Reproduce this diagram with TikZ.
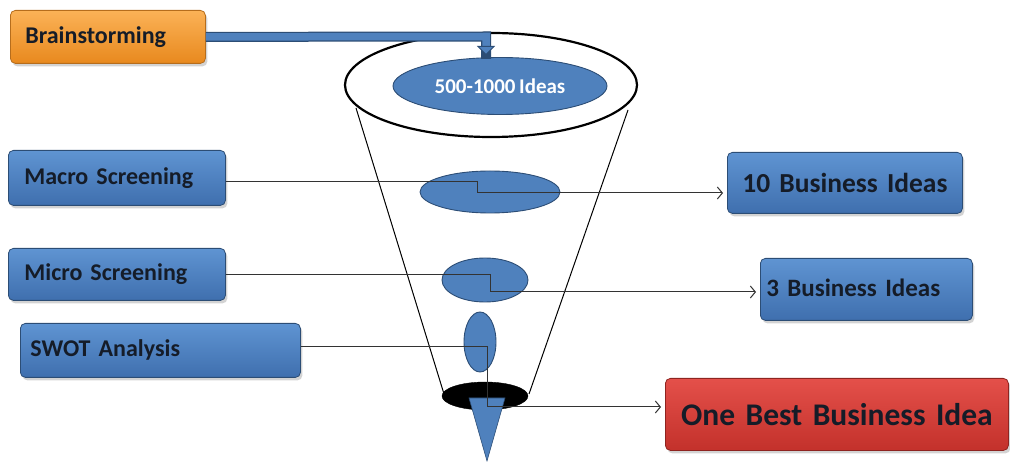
\documentclass[tikz,border=0pt]{standalone}
\usepackage{fontspec}
\setmainfont{Carlito}[WordSpace=0.75]
\usetikzlibrary{arrows.meta,shadows,shapes.geometric}
\definecolor{bfill}{HTML}{4F81BD}
\definecolor{btop}{HTML}{5F94D2}
\definecolor{bbot}{HTML}{3F6FAE}
\definecolor{bline}{HTML}{2C4D75}
\definecolor{otop}{HTML}{FBB257}
\definecolor{obot}{HTML}{E8891E}
\definecolor{oline}{HTML}{B66D1C}
\definecolor{rtop}{HTML}{E4504A}
\definecolor{rbot}{HTML}{C3312B}
\definecolor{rline}{HTML}{8E2420}
\definecolor{txt}{HTML}{151C28}
\tikzset{
  boxbase/.style={rounded corners=5pt, draw, line width=0.8pt, anchor=north west,
    text=txt, font=\bfseries\fontsize{24}{27}\selectfont,
    drop shadow={opacity=0.35, shadow xshift=2pt, shadow yshift=-3pt}},
  bluebox/.style={boxbase, draw=bline, top color=btop, bottom color=bbot},
  orangebox/.style={boxbase, draw=oline, top color=otop, bottom color=obot},
  redbox/.style={boxbase, draw=rline, top color=rtop, bottom color=rbot},
  blueell/.style={ellipse, draw=bline, fill=bfill, line width=0.9pt, inner sep=0pt},
  conn/.style={draw=black!80, line width=1pt},
  connarr/.style={conn, -{Straight Barb[length=5pt,width=12pt]}, shorten >=4pt},
  funnel/.style={draw=black, line width=1pt},
}
\begin{document}
\begin{tikzpicture}[x=1pt,y=-1pt]
\useasboundingbox (0,0) rectangle (1010,462);

% funnel sides
\coordinate (fl1) at (356,108);
\coordinate (fl2) at (444,394);
\coordinate (fr1) at (628,110);
\coordinate (fr2) at (529,394);
\draw[funnel] (fl1) -- (fl2);
\draw[funnel] (fr1) -- (fr2);

% big top ellipse
\node[ellipse, draw=black, fill=white, line width=2.2pt, minimum width=292pt, minimum height=104pt, inner sep=0pt] (top) at (491,85) {};
\node[blueell, minimum width=214pt, minimum height=57pt, text=white, font=\bfseries\fontsize{21}{24}\selectfont] (ideas) at (500,86) {500-1000 Ideas};

% stage ellipses
\node[blueell, minimum width=140pt, minimum height=42pt] (e1) at (490,192) {};
\node[blueell, minimum width=86pt, minimum height=44pt] (e2) at (485,280) {};
\node[blueell, minimum width=32pt, minimum height=60pt] (e3) at (480,342) {};
\node[ellipse, draw=black, fill=black, minimum width=86pt, minimum height=28pt, inner sep=0pt] (e4) at (485,396) {};
\path[fill=bfill, draw=bline, line width=0.6pt] (469,398) -- (505,398) -- (487,461) -- cycle;

% boxes
\node[orangebox, minimum height=53pt, text width=165pt, inner xsep=15pt, align=left] (brain) at (10,10) {Brainstorming};
\node[bluebox, minimum height=55pt, text width=185pt, inner xsep=16pt, align=left] (macro) at (8,150) {Macro Screening};
\node[bluebox, minimum height=52pt, text width=185pt, inner xsep=16pt, align=left] (micro) at (8,248) {Micro Screening};
\node[bluebox, minimum height=54pt, text width=260pt, inner xsep=10pt, align=left] (swot) at (20,323) {SWOT Analysis};
\node[bluebox, minimum height=61pt, text width=219pt, inner xsep=8pt, align=center, font=\bfseries\fontsize{27.5}{30}\selectfont] (ten) at (727,152) {10 Business Ideas};
\node[bluebox, minimum height=62pt, text width=200pt, inner xsep=6pt, align=left, font=\bfseries\fontsize{25}{28}\selectfont] (three) at (760,258) {\raisebox{3pt}{3 Business Ideas}};
\node[redbox, minimum height=72pt, text width=327pt, inner xsep=8pt, align=center, font=\bfseries\fontsize{31.5}{34}\selectfont] (best) at (665,378) {One Best Business Idea};

% brainstorming arrow
\coordinate (bc) at (486,36.5);
\coordinate (bd) at (486,55);
\draw[draw=bline, line width=10pt] (brain.east) -- (bc) -- ([yshift=-4pt]bc |- bd);
\draw[draw=bfill, line width=7.5pt, -{Triangle[width=18pt,length=9pt,color=bline,fill=bfill,line width=0.8pt]}] (brain.east) -- (bc) -- (bd);

% connectors
\coordinate (ms) at (477,193);
\coordinate (mis) at (490,292);
\coordinate (ss) at (487,407);
\draw[connarr] ([yshift=-4pt]macro.east) -| (ms) -- (ms -| ten.west);
\draw[connarr] (micro.east) -| (mis) -- (mis -| three.west);
\draw[connarr] ([yshift=4pt]swot.east) -| (ss) -- (ss -| best.west);
\end{tikzpicture}
\end{document}
